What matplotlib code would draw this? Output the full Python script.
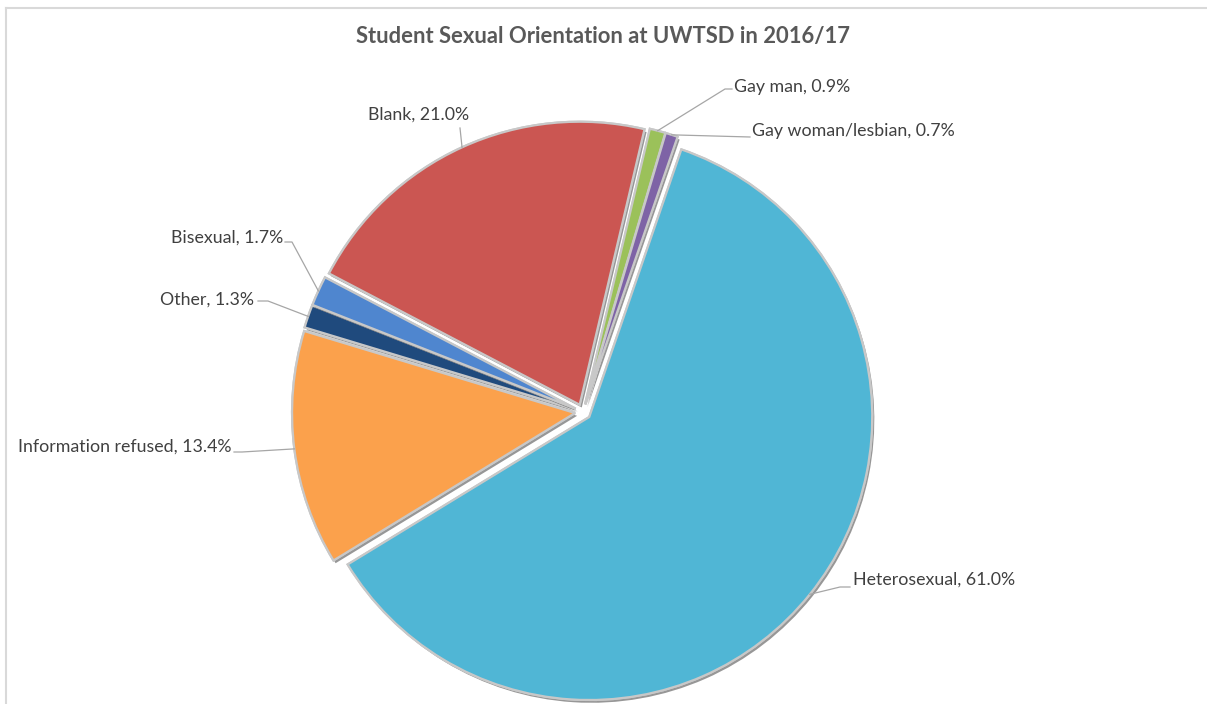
import numpy as np
import matplotlib.pyplot as plt
import matplotlib.patheffects as pe

# data, clockwise from about one o'clock
labels = ["Heterosexual", "Information refused", "Other", "Bisexual",
          "Blank", "Gay man", "Gay woman/lesbian"]
values = [61.0, 13.4, 1.3, 1.7, 21.0, 0.9, 0.7]
colors = ["#50B6D5", "#FBA14C", "#1F4A7D", "#4F86CF",
          "#CB5652", "#9BC15A", "#7E63A6"]

W, H = 1207, 704


def py(y):
    # pixel row -> data y (y up)
    return H - y


plt.rcParams["font.family"] = ["Lato", "DejaVu Sans"]

fig = plt.figure(figsize=(W / 100, H / 100), dpi=100)
ax = fig.add_axes([0, 0, 1, 1])

# chart border (only top and left visible in the crop)
ax.plot([6, W], [py(8), py(8)], color="#d9d9d9", lw=1.5)
ax.plot([6, 6], [py(8), 0], color="#d9d9d9", lw=1.5)

cx, cy, r = 583, py(412), 283
# explode is in data units here (pixels)
wedges, _ = ax.pie(values, colors=colors, startangle=71, counterclock=False,
                   center=(cx, cy), radius=r, explode=[8] * len(values),
                   frame=True,
                   wedgeprops=dict(edgecolor="#c8c8c8", linewidth=1.6))
for w in wedges:
    w.set_path_effects([pe.withSimplePatchShadow(offset=(1.5, -2),
                                                 shadow_rgbFace="#303030",
                                                 alpha=0.5), pe.Normal()])
ax.set_xlim(0, W)
ax.set_ylim(0, H)
ax.set_aspect("equal")
ax.axis("off")

# label layout: text anchor (px), alignment, elbow points (px)
layout = {
    "Heterosexual": ((853, 580), "left", [(840, 587), (850, 587)]),
    "Information refused": ((232, 447), "right", [(242, 452), (234, 452)]),
    "Other": ((254, 300), "right", [(268, 301), (258, 301)]),
    "Bisexual": ((283, 238), "right", [(292, 242), (285, 242)]),
    "Blank": ((419, 115), "center", [(460, 128)]),
    "Gay man": ((734, 87), "left", [(725, 89), (732, 89)]),
    "Gay woman/lesbian": ((752, 131), "left", [(750, 137)]),
}

for w, lab, val in zip(wedges, labels, values):
    mid = np.deg2rad((w.theta1 + w.theta2) / 2)
    wx, wy = w.center
    edge = (wx + r * np.cos(mid), wy + r * np.sin(mid))
    (tx, ty), ha, elbows = layout[lab]
    xs = [edge[0]] + [e[0] for e in elbows]
    ys = [edge[1]] + [py(e[1]) for e in elbows]
    ax.plot(xs, ys, color="#a6a6a6", lw=0.9, zorder=3)
    ax.text(tx, py(ty), f"{lab}, {val:.1f}%", ha=ha, va="center",
            fontsize=12.8, color="#404040")

ax.text(W / 2, py(36), "Student Sexual Orientation at UWTSD in 2016/17",
        ha="center", va="center", fontsize=15.8, fontweight="bold",
        color="#595959")

fig.savefig("out.png", dpi=100)
